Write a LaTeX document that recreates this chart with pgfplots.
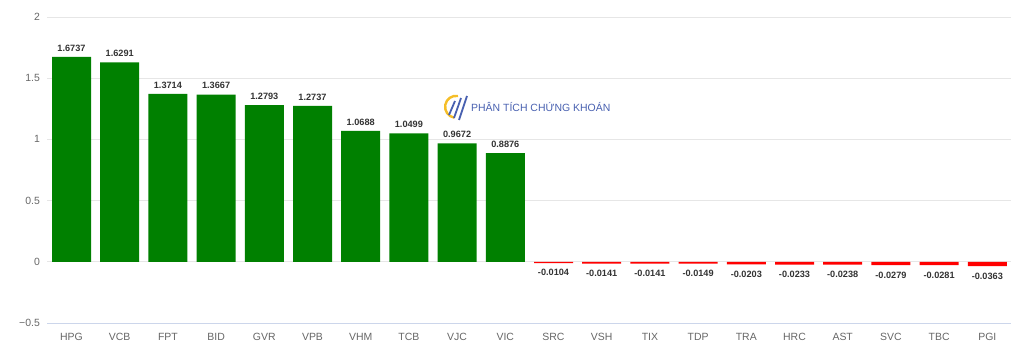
\documentclass[border=0pt]{standalone}
\usepackage{pgfplots}
\pgfplotsset{compat=1.18}
\usepackage{fontspec}
\setmainfont{Liberation Sans}
\definecolor{barg}{RGB}{0,128,0}
\definecolor{barr}{RGB}{255,0,0}
\definecolor{gridc}{RGB}{230,230,230}
\definecolor{axisc}{RGB}{204,214,235}
\definecolor{tickc}{RGB}{102,102,102}
\definecolor{labc}{RGB}{51,51,51}
\definecolor{wmblue}{RGB}{72,96,176}
\definecolor{wmyellow}{RGB}{245,190,40}
\begin{document}
\begin{tikzpicture}
\begin{axis}[
  at={(47.4bp,28bp)}, anchor=south west,
  width=964bp, height=306bp, scale only axis,
  xmin=-0.5, xmax=19.5, ymin=-0.5, ymax=2,
  ytick={-0.5,0,0.5,1,1.5,2},
  yticklabels={−0.5,0,0.5,1,1.5,2},
  xtick={0,...,19},
  xticklabels={HPG,VCB,FPT,BID,GVR,VPB,VHM,TCB,VJC,VIC,SRC,VSH,TIX,TDP,TRA,HRC,AST,SVC,TBC,PGI},
  axis lines=left, axis line style={-},
  y axis line style={draw=none},
  x axis line style={draw=axisc},
  major tick length=0pt,
  ymajorgrids, grid style={draw=gridc, line width=0.8pt},
  ticklabel style={font=\fontsize{10.5}{12}\selectfont, text=tickc},
  yticklabel style={xshift=-4bp},
  xticklabel style={yshift=-7bp},
  clip=false,
  every node near coord/.append style={font=\bfseries\fontsize{9.2}{11}\selectfont, text=labc},
]
\addplot[ybar, fill=barg, draw=none, bar width=39bp, bar shift=0pt,
  nodes near coords, point meta=explicit symbolic,
  nodes near coords style={anchor=south, yshift=2bp}] coordinates {
  (0,1.6737)[1.6737] (1,1.6291)[1.6291] (2,1.3714)[1.3714] (3,1.3667)[1.3667]
  (4,1.2793)[1.2793] (5,1.2737)[1.2737] (6,1.0688)[1.0688] (7,1.0499)[1.0499]
  (8,0.9672)[0.9672] (9,0.8876)[0.8876]
};
\addplot[ybar, fill=barr, draw=none, bar width=39bp, bar shift=0pt,
  nodes near coords, point meta=explicit symbolic,
  nodes near coords style={anchor=north, yshift=-3bp}] coordinates {
  (10,-0.0104)[-0.0104] (11,-0.0141)[-0.0141] (12,-0.0141)[-0.0141]
  (13,-0.0149)[-0.0149] (14,-0.0203)[-0.0203] (15,-0.0233)[-0.0233]
  (16,-0.0238)[-0.0238] (17,-0.0279)[-0.0279] (18,-0.0281)[-0.0281]
  (19,-0.0363)[-0.0363]
};
\end{axis}
% watermark
\begin{scope}[shift={(456bp,244bp)}]
  \draw[wmyellow, line width=2.4bp] (2bp,11bp) arc[start angle=80, end angle=260, radius=11bp];
  \draw[wmblue, line width=1.8bp] (-7bp,-8bp) -- (-1bp,6bp);
  \draw[wmblue, line width=1.8bp] (-2bp,-11bp) -- (5bp,9bp);
  \draw[wmblue, line width=1.8bp] (3bp,-13bp) -- (11bp,11bp);
\end{scope}
\node[anchor=west, text=wmblue, font=\fontsize{10.5}{12}\selectfont, inner sep=0pt] at (471bp,244bp) {PHÂN TÍCH CHỨNG KHOÁN};
\pgfresetboundingbox
\path[use as bounding box] (0,0) rectangle (1024bp,351bp);
\end{tikzpicture}
\end{document}
